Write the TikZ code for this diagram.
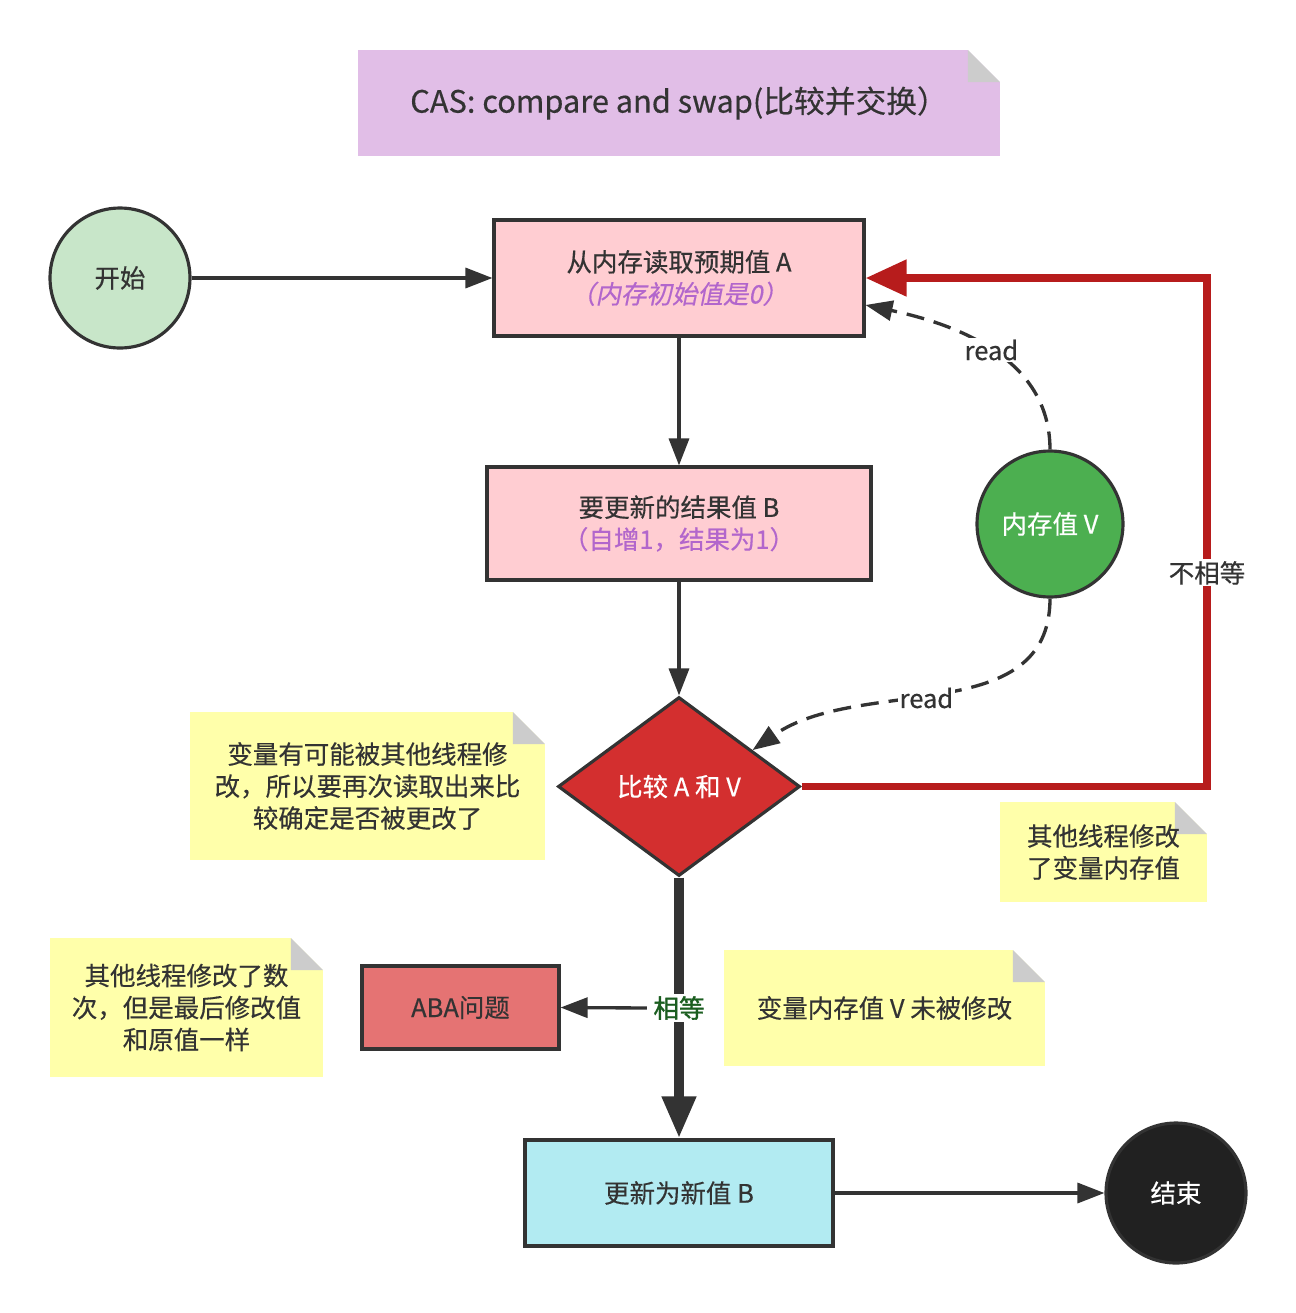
\documentclass[tikz,border=0pt]{standalone}
\usepackage{fontspec}
\setmainfont{Noto Sans CJK SC}[FakeBold=0.4]
\newfontfamily\slantfont{Noto Sans CJK SC}[FakeSlant=0.2,FakeBold=0.4]
\newfontfamily\heavyfont{Noto Sans CJK SC}[FakeBold=1.4]
\usetikzlibrary{positioning,arrows.meta,calc,shapes.geometric}
\definecolor{ink}{RGB}{51,51,51}
\definecolor{titlepurple}{RGB}{225,190,231}
\definecolor{noteyellow}{RGB}{255,255,170}
\definecolor{foldgray}{RGB}{204,204,204}
\definecolor{startgreen}{RGB}{200,230,201}
\definecolor{boxpink}{RGB}{255,205,210}
\definecolor{hintpurple}{RGB}{178,102,204}
\definecolor{cmpred}{RGB}{211,47,47}
\definecolor{memgreen}{RGB}{76,175,80}
\definecolor{abared}{RGB}{229,115,115}
\definecolor{updcyan}{RGB}{178,235,242}
\definecolor{endblack}{RGB}{33,33,33}
\definecolor{loopred}{RGB}{183,28,28}
\definecolor{eqgreen}{RGB}{27,94,32}

\begin{document}
\begin{tikzpicture}[x=0.02cm,y=-0.02cm,
txt/.style={font=\fontsize{14.5}{18.2}\selectfont,text=ink,align=center},
box/.style={txt,draw=ink,line width=1.8pt,inner sep=0pt},
note/.style={txt,fill=noteyellow,inner sep=0pt,path picture={
\fill[white]([xshift=-.64cm]path picture bounding box.north east)--(path picture bounding box.north east)
--([yshift=-.64cm]path picture bounding box.north east)--cycle;
\fill[foldgray]([xshift=-.64cm]path picture bounding box.north east)--([xshift=-.64cm,yshift=-.64cm]path picture bounding box.north east)
--([yshift=-.64cm]path picture bounding box.north east)--cycle;}},
arr/.style={-{Triangle[length=.54cm,width=.4cm]},line width=1.9pt,draw=ink},
dsh/.style={arr,dash pattern=on .36cm off .2cm},
lbl/.style={txt,fill=white,inner sep=1pt}]
\fill[white](0,0)rectangle(1296,1313);\useasboundingbox(0,0)rectangle(1296,1313);
% notes
\node[note,fill=titlepurple,minimum width=12.84cm,minimum height=2.12cm,font=\fontsize{17.5}{20}\selectfont] (title) at (679,103) {CAS: compare and swap(比较并交换）};
\node[note,minimum width=7.1cm,minimum height=2.96cm] (why) at (367.5,786) {变量有可能被其他线程修\\改，所以要再次读取出来比\\较确定是否被更改了};
\node[note,minimum width=4.14cm,minimum height=2cm] (chg) at (1103.5,852) {其他线程修改\\了变量内存值};
\node[note,minimum width=5.46cm,minimum height=2.78cm] (aba-n) at (186.5,1007.5) {其他线程修改了数\\次，但是最后修改值\\和原值一样};
\node[note,minimum width=6.42cm,minimum height=2.32cm] (same) at (884.5,1008) {变量内存值 V 未被修改};
% flow
\node[box,circle,fill=startgreen,minimum size=2.8cm] (start) at (120,278) {开始};
\node[box,fill=boxpink,minimum width=7.4cm,minimum height=2.32cm] (A) at (679,278) {从内存读取预期值 A\\{\slantfont\color{hintpurple}（内存初始值是0）}};
\node[box,fill=boxpink,minimum width=7.68cm,minimum height=2.26cm] (B) at (679,523.5) {要更新的结果值 B\\{\color{hintpurple}（自增1，结果为1）}};
\node[box,diamond,fill=cmpred,text=white,minimum width=4.84cm,minimum height=3.58cm] (cmp) at (679,786.5) {比较 A 和 V};
\node[box,circle,fill=memgreen,text=white,minimum size=2.92cm] (V) at (1050,524) {内存值 V};
\node[box,fill=abared,minimum width=3.94cm,minimum height=1.66cm] (aba) at (460.5,1007.5) {ABA问题};
\node[box,fill=updcyan,minimum width=6.16cm,minimum height=2.12cm] (upd) at (679,1193) {更新为新值 B};
\node[box,circle,fill=endblack,text=white,minimum size=2.8cm] (end) at (1176,1193) {结束};
\coordinate (turn) at (1207,786.5);
\draw[arr](start)--(A);\draw[arr](A)--(B);\draw[arr](B)--(cmp);
\draw[dsh](V.north)to[out=90,in=-12]node[lbl,pos=.5]{read}([yshift=-.54cm]A.east);
\draw[dsh](V.south)to[out=-90,in=35]node[lbl,pos=.54]{read}($(cmp.north)!.6!(cmp.east)$);
\draw[-{Triangle[length=.82cm,width=.7cm]},line width=4.5pt,draw=loopred](cmp.east)--(turn)|-node[lbl,pos=.21]{不相等}(A.east);
\draw[-{Triangle[length=.84cm,width=.64cm]},line width=5.7pt,draw=ink](cmp.south)--node[lbl,text=eqgreen,font=\heavyfont\fontsize{14.5}{18}\selectfont] (eq) {相等}(upd.north);
\draw[arr](eq.west)--(aba.east);
\draw[arr](upd)--(end);
\end{tikzpicture}
\end{document}
